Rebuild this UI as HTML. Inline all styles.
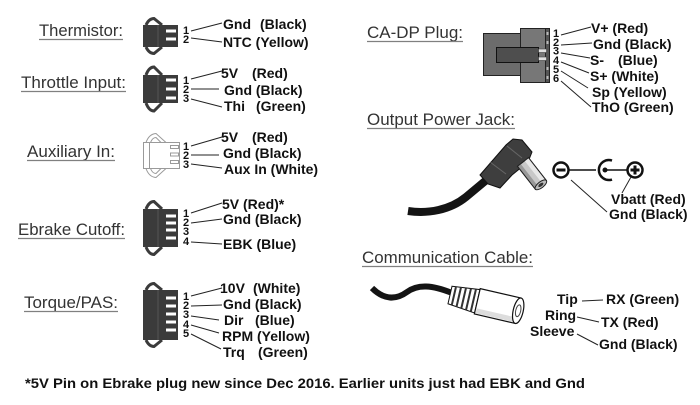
<!DOCTYPE html>
<html>
<head>
<meta charset="utf-8">
<style>
html,body{margin:0;padding:0;background:#fff;}
svg{display:block;}
.t{font-family:"Liberation Sans",Arial,sans-serif;font-size:16.5px;fill:#333;}
.l{font-family:"Liberation Sans",Arial,sans-serif;font-size:14px;font-weight:bold;fill:#111;}
.n{font-family:"Liberation Sans",Arial,sans-serif;font-size:11px;font-weight:bold;fill:#111;}
.u{stroke:#808080;stroke-width:1.2;}
.w{stroke:#222;stroke-width:1;fill:none;}
.body{fill:#3b3b3b;}
.slot{fill:#fff;}
.latch{stroke:#3b3b3b;stroke-width:3;fill:none;}
</style>
</head>
<body>
<svg width="700" height="405" viewBox="0 0 700 405" xmlns="http://www.w3.org/2000/svg">
<rect width="700" height="405" fill="#fff"/>

<!-- ===== Thermistor ===== -->
<text class="t" x="39" y="36" textLength="84" lengthAdjust="spacingAndGlyphs">Thermistor:</text>
<line class="u" x1="39" y1="39.5" x2="123" y2="39.5"/>
<rect class="body" x="143" y="25" width="35" height="22"/>
<line x1="158" y1="25" x2="158" y2="47" stroke="#555" stroke-width="1"/>
<rect class="slot" x="166" y="29.5" width="10" height="3"/>
<rect class="slot" x="166" y="37.5" width="10" height="3"/>
<path class="latch" d="M146,25 Q149,18.5 154,18.5 L162,25"/>
<path class="latch" d="M146,47 Q149,53.5 154,53.5 L162,47"/>
<text class="n" x="183" y="34">1</text>
<text class="n" x="183" y="43">2</text>
<line class="w" x1="191" y1="31" x2="222" y2="23"/>
<line class="w" x1="191" y1="38" x2="222" y2="42"/>
<text class="l" x="223" y="29">Gnd</text><text class="l" x="260" y="29">(Black)</text>
<text class="l" x="223" y="47">NTC (Yellow)</text>

<!-- ===== Throttle ===== -->
<text class="t" x="21" y="88" textLength="105" lengthAdjust="spacingAndGlyphs">Throttle Input:</text>
<line class="u" x1="21" y1="91.5" x2="126" y2="91.5"/>
<rect class="body" x="143" y="75" width="35" height="28"/>
<line x1="158" y1="75" x2="158" y2="103" stroke="#555" stroke-width="1"/>
<rect class="slot" x="166" y="78.5" width="10" height="3"/>
<rect class="slot" x="166" y="87.5" width="10" height="3"/>
<rect class="slot" x="166" y="96.5" width="10" height="3"/>
<path class="latch" d="M146,75 Q149,67 154,67 L162,75"/>
<path class="latch" d="M146,103 Q149,111 154,111 L162,103"/>
<text class="n" x="183" y="84">1</text>
<text class="n" x="183" y="93">2</text>
<text class="n" x="183" y="102">3</text>
<line class="w" x1="191" y1="79" x2="222" y2="71"/>
<line class="w" x1="191" y1="89" x2="219" y2="89"/>
<line class="w" x1="191" y1="99" x2="222" y2="107"/>
<text class="l" x="221" y="78">5V</text><text class="l" x="252" y="78">(Red)</text>
<text class="l" x="224" y="95">Gnd (Black)</text>
<text class="l" x="224" y="111">Thi</text><text class="l" x="256" y="111">(Green)</text>

<!-- ===== Auxiliary ===== -->
<text class="t" x="27" y="157" textLength="88" lengthAdjust="spacingAndGlyphs">Auxiliary In:</text>
<line class="u" x1="27" y1="160.5" x2="115" y2="160.5"/>
<rect x="143.5" y="142.5" width="36" height="26" fill="#fff" stroke="#9a9a9a" stroke-width="1"/>
<line x1="149.5" y1="142.5" x2="149.5" y2="168.5" stroke="#9a9a9a" stroke-width="1"/>
<rect x="170.5" y="145.5" width="8" height="3" fill="#fff" stroke="#9a9a9a" stroke-width="1"/>
<rect x="170.5" y="153" width="8" height="3" fill="#fff" stroke="#9a9a9a" stroke-width="1"/>
<rect x="170.5" y="160.5" width="8" height="3" fill="#fff" stroke="#9a9a9a" stroke-width="1"/>
<path d="M146,142.5 Q149,134 156,133.5 L166,142.5 M150.5,142.5 Q152.5,137.5 156,137.5 L161,142.5" stroke="#9a9a9a" stroke-width="1" fill="none"/>
<path d="M146,168.5 Q149,177 156,177.5 L166,168.5 M150.5,168.5 Q152.5,173.5 156,173.5 L161,168.5" stroke="#9a9a9a" stroke-width="1" fill="none"/>
<text class="n" x="183" y="150">1</text>
<text class="n" x="183" y="159">2</text>
<text class="n" x="183" y="168">3</text>
<line class="w" x1="191" y1="146" x2="222" y2="137"/>
<line class="w" x1="191" y1="155" x2="219" y2="155"/>
<line class="w" x1="191" y1="164" x2="222" y2="168"/>
<text class="l" x="221" y="142">5V</text><text class="l" x="252" y="142">(Red)</text>
<text class="l" x="223" y="158">Gnd (Black)</text>
<text class="l" x="224" y="174">Aux In (White)</text>

<!-- ===== Ebrake ===== -->
<text class="t" x="18" y="235" textLength="107" lengthAdjust="spacingAndGlyphs">Ebrake Cutoff:</text>
<line class="u" x1="18" y1="238.5" x2="125" y2="238.5"/>
<rect class="body" x="143" y="209" width="35" height="38"/>
<line x1="158" y1="209" x2="158" y2="247" stroke="#555" stroke-width="1"/>
<rect class="slot" x="166" y="214.5" width="10" height="3"/>
<rect class="slot" x="166" y="221.5" width="10" height="3"/>
<rect class="slot" x="166" y="228.5" width="10" height="3"/>
<rect class="slot" x="166" y="236.5" width="10" height="3"/>
<path class="latch" d="M146,209 Q149,201.5 154,201.5 L162,209"/>
<path class="latch" d="M146,247 Q149,254.5 154,254.5 L162,247"/>
<text class="n" x="183" y="217">1</text>
<text class="n" x="183" y="226">2</text>
<text class="n" x="183" y="235">3</text>
<text class="n" x="183" y="245">4</text>
<line class="w" x1="191" y1="213" x2="222" y2="203"/>
<line class="w" x1="191" y1="223" x2="222" y2="219"/>
<line class="w" x1="191" y1="242" x2="222" y2="244"/>
<text class="l" x="222" y="209">5V (Red)*</text>
<text class="l" x="223" y="224">Gnd (Black)</text>
<text class="l" x="223" y="249">EBK (Blue)</text>

<!-- ===== Torque/PAS ===== -->
<text class="t" x="24" y="308" textLength="94" lengthAdjust="spacingAndGlyphs">Torque/PAS:</text>
<line class="u" x1="24" y1="311.5" x2="118" y2="311.5"/>
<rect class="body" x="143" y="290" width="35" height="50"/>
<line x1="158" y1="290" x2="158" y2="340" stroke="#555" stroke-width="1"/>
<rect class="slot" x="166" y="296.5" width="10" height="3"/>
<rect class="slot" x="166" y="304.5" width="10" height="3"/>
<rect class="slot" x="166" y="312.5" width="10" height="3"/>
<rect class="slot" x="166" y="320.5" width="10" height="3"/>
<rect class="slot" x="166" y="328.5" width="10" height="3"/>
<path class="latch" d="M146,290 Q149,283.5 154,283.5 L162,290"/>
<path class="latch" d="M146,340 Q149,346.5 154,346.5 L162,340"/>
<text class="n" x="183" y="300">1</text>
<text class="n" x="183" y="309">2</text>
<text class="n" x="183" y="318">3</text>
<text class="n" x="183" y="328">4</text>
<text class="n" x="183" y="337">5</text>
<line class="w" x1="191" y1="296" x2="222" y2="288"/>
<line class="w" x1="191" y1="306" x2="222" y2="305"/>
<line class="w" x1="191" y1="316" x2="219" y2="320"/>
<line class="w" x1="191" y1="325" x2="219" y2="333"/>
<line class="w" x1="191" y1="334" x2="221" y2="349"/>
<text class="l" x="220" y="293">10V</text><text class="l" x="253" y="293">(White)</text>
<text class="l" x="223" y="309">Gnd (Black)</text>
<text class="l" x="224" y="325">Dir</text><text class="l" x="255" y="325">(Blue)</text>
<text class="l" x="222" y="341">RPM (Yellow)</text>
<text class="l" x="223" y="357">Trq</text><text class="l" x="258" y="357">(Green)</text>

<!-- Footnote -->
<text class="l" x="25" y="388" textLength="560" lengthAdjust="spacingAndGlyphs">*5V Pin on Ebrake plug new since Dec 2016. Earlier units just had EBK and Gnd</text>

<!-- ===== CA-DP Plug ===== -->
<text class="t" x="367" y="38" textLength="96" lengthAdjust="spacingAndGlyphs">CA-DP Plug:</text>
<line class="u" x1="367" y1="41.5" x2="463" y2="41.5"/>
<rect x="483.5" y="33.5" width="37" height="42" fill="#6c6c6c" stroke="#222" stroke-width="1"/>
<rect x="520.5" y="28.5" width="25" height="54" fill="#777" stroke="#222" stroke-width="1"/>
<rect x="545.5" y="28.5" width="4" height="54" fill="#555" stroke="#222" stroke-width="1"/>
<rect x="546.5" y="32" width="2" height="3" fill="#bbb"/>
<rect x="546.5" y="41" width="2" height="3" fill="#bbb"/>
<rect x="546.5" y="67" width="2" height="3" fill="#bbb"/>
<rect x="546.5" y="76" width="2" height="3" fill="#bbb"/>
<rect x="496.5" y="47.5" width="42" height="15" fill="#4e4e4e" stroke="#111" stroke-width="1"/>
<rect x="538.5" y="49" width="8" height="3.5" fill="#e0e0e0" stroke="#444" stroke-width="0.6"/>
<rect x="538.5" y="57" width="8" height="3.5" fill="#e0e0e0" stroke="#444" stroke-width="0.6"/>
<text class="n" x="553" y="37">1</text>
<text class="n" x="553" y="46">2</text>
<text class="n" x="553" y="54.5">3</text>
<text class="n" x="553" y="64">4</text>
<text class="n" x="553" y="73">5</text>
<text class="n" x="553" y="82">6</text>
<line class="w" x1="561" y1="35" x2="591" y2="27"/>
<line class="w" x1="561" y1="45" x2="592" y2="43"/>
<line class="w" x1="561" y1="53" x2="590" y2="58"/>
<line class="w" x1="561" y1="62" x2="589" y2="73"/>
<line class="w" x1="561" y1="71" x2="588" y2="88"/>
<line class="w" x1="561" y1="81" x2="591" y2="107"/>
<text class="l" x="591" y="33">V+ (Red)</text>
<text class="l" x="593" y="49">Gnd (Black)</text>
<text class="l" x="590" y="65">S-</text><text class="l" x="618" y="65">(Blue)</text>
<text class="l" x="590" y="81">S+ (White)</text>
<text class="l" x="592" y="97">Sp (Yellow)</text>
<text class="l" x="592" y="112">ThO (Green)</text>

<!-- ===== Output Power Jack ===== -->
<text class="t" x="367" y="125" textLength="148" lengthAdjust="spacingAndGlyphs">Output Power Jack:</text>
<line class="u" x1="367" y1="128.5" x2="515" y2="128.5"/>
<path d="M408,211 C428,214 450,210 466,197 L490,177" stroke="#141414" stroke-width="8" fill="none"/>
<polygon points="480,175 506,145 513,139 522,140 532,152 528,162 512,175 500,188 488,184" fill="#3e3e3e" stroke="#111" stroke-width="1"/>
<line x1="490" y1="162" x2="506" y2="174" stroke="#666" stroke-width="1"/>
<line x1="507" y1="146" x2="522" y2="158" stroke="#666" stroke-width="1"/>
<g transform="translate(523,162) rotate(52)">
  <rect x="0" y="-7" width="29" height="14" fill="#c8c8c8" stroke="#222" stroke-width="1"/>
  <rect x="0" y="-7" width="29" height="5" fill="#e8e8e8"/>
  <rect x="0" y="3" width="29" height="4" fill="#999"/>
  <rect x="0" y="-7" width="29" height="14" fill="none" stroke="#222" stroke-width="1"/>
  <ellipse cx="29" cy="0" rx="3" ry="7" fill="#bbb" stroke="#222" stroke-width="1"/>
  <ellipse cx="29" cy="0" rx="1.5" ry="3" fill="#333"/>
</g>
<circle cx="561" cy="170" r="7.5" fill="#fff" stroke="#111" stroke-width="2.5"/>
<line x1="556.5" y1="170" x2="565.5" y2="170" stroke="#111" stroke-width="3"/>
<line x1="569" y1="170" x2="596" y2="170" stroke="#111" stroke-width="1.5"/>
<path d="M612,160.5 A10,10 0 1 0 612,179.5" stroke="#111" stroke-width="2.5" fill="none"/>
<circle cx="605" cy="170" r="2.5" fill="#111"/>
<line x1="605" y1="170" x2="628" y2="170" stroke="#111" stroke-width="1.5"/>
<circle cx="635" cy="170" r="7.5" fill="#fff" stroke="#111" stroke-width="2.5"/>
<line x1="630.5" y1="170" x2="639.5" y2="170" stroke="#111" stroke-width="3"/>
<line x1="635" y1="165.5" x2="635" y2="174.5" stroke="#111" stroke-width="3"/>
<line class="w" x1="571" y1="180" x2="607" y2="212"/>
<line class="w" x1="631" y1="177" x2="622" y2="193"/>
<text class="l" x="611" y="204">Vbatt (Red)</text>
<text class="l" x="609" y="219">Gnd (Black)</text>

<!-- ===== Communication Cable ===== -->
<text class="t" x="362" y="263" textLength="171" lengthAdjust="spacingAndGlyphs">Communication Cable:</text>
<line class="u" x1="362" y1="266.5" x2="533" y2="266.5"/>
<path d="M372,288 C384,300 396,300 407,292 C418,284 432,285 452,293" stroke="#141414" stroke-width="6" fill="none"/>
<g transform="translate(450,295) rotate(13)">
  <path d="M0,-9 L28,-12 L28,12 L0,9 Z" fill="#fff" stroke="#111" stroke-width="1"/>
  <line x1="4" y1="-9" x2="4" y2="9" stroke="#333" stroke-width="2"/>
  <line x1="9" y1="-10" x2="9" y2="10" stroke="#333" stroke-width="2"/>
  <line x1="14" y1="-10.5" x2="14" y2="10.5" stroke="#333" stroke-width="2"/>
  <line x1="19" y1="-11" x2="19" y2="11" stroke="#333" stroke-width="2"/>
  <line x1="24" y1="-11.5" x2="24" y2="11.5" stroke="#333" stroke-width="2"/>
  <rect x="28" y="-13" width="42" height="26" fill="#fff" stroke="#111" stroke-width="1.2"/>
  <rect x="29" y="7" width="40" height="5" fill="#ddd"/>
  <ellipse cx="70" cy="0" rx="5" ry="13" fill="#fff" stroke="#111" stroke-width="1.2"/>
  <ellipse cx="70" cy="0" rx="2.5" ry="6" fill="#fff" stroke="#444" stroke-width="1"/>
</g>
<text class="l" x="557" y="304">Tip</text>
<line class="w" x1="582" y1="301" x2="603" y2="300"/>
<text class="l" x="606" y="304">RX (Green)</text>
<text class="l" x="545" y="320">Ring</text>
<line class="w" x1="577" y1="317" x2="599" y2="322"/>
<text class="l" x="601" y="327">TX (Red)</text>
<text class="l" x="530" y="336">Sleeve</text>
<line class="w" x1="577" y1="334" x2="598" y2="345"/>
<text class="l" x="599" y="349">Gnd (Black)</text>
</svg>
</body>
</html>
